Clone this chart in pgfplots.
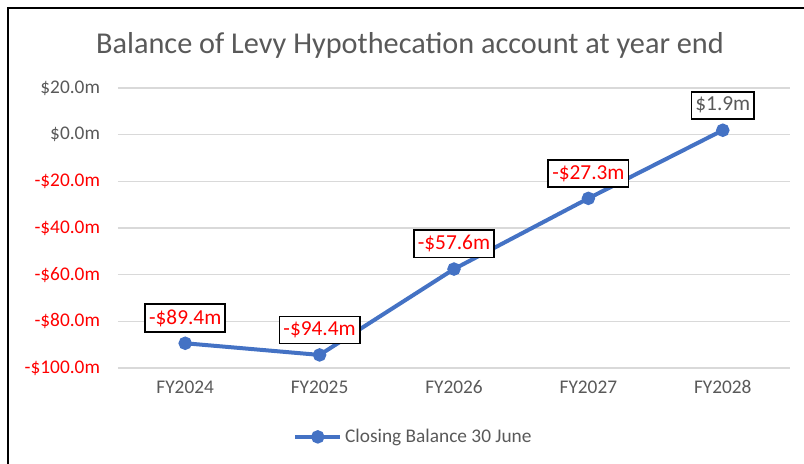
\documentclass[border=0pt]{standalone}
\usepackage{pgfplots}
\pgfplotsset{compat=1.18}
\usepackage{fontspec}
\setmainfont{Carlito}
\definecolor{txtgray}{HTML}{595959}
\definecolor{gridgray}{HTML}{D9D9D9}
\definecolor{lineblue}{HTML}{4472C4}
\definecolor{negred}{HTML}{FF0000}
\begin{document}
\begin{tikzpicture}
\path[use as bounding box] (0,0) rectangle (603pt,348pt);
\draw[line width=1.8pt] (6pt,0) -- (6pt,342pt) -- (603pt,342pt);
\node[font=\fontsize{22.7}{26}\selectfont, text=txtgray] at (307.5pt,314pt)
  {Balance of Levy Hypothecation account at year end};
\begin{axis}[
    at={(88.5pt,72pt)}, anchor=south west,
    scale only axis,
    width=504pt, height=210pt,
    xmin=-0.5, xmax=4.5,
    ymin=-100, ymax=20,
    xtick={0,1,2,3,4},
    xticklabels={FY2024,FY2025,FY2026,FY2027,FY2028},
    ytick={-100,-80,-60,-40,-20,0,20},
    yticklabels={\textcolor{negred}{-\$100.0m},\textcolor{negred}{-\$80.0m},
      \textcolor{negred}{-\$60.0m},\textcolor{negred}{-\$40.0m},
      \textcolor{negred}{-\$20.0m},\$0.0m,\$20.0m},
    ymajorgrids,
    grid style={gridgray, line width=0.9pt},
    axis line style={draw=none},
    major tick style={draw=none},
    tick label style={font=\fontsize{14.5}{17}\selectfont, text=txtgray},
    yticklabel style={xshift=-10pt},
    xticklabel style={yshift=-6pt},
    clip=false,
    legend style={at={(0.44,-0.246)}, anchor=center, draw=none, fill=none,
      font=\fontsize{14.5}{17}\selectfont, text=txtgray},
    legend image code/.code={
      \draw[lineblue, line width=3pt] (0pt,0pt) -- (34pt,0pt);
      \fill[lineblue] (17pt,0pt) circle (3.5pt);
    },
]
% data labels drawn first so the line sits on top of them
\addplot[draw=none, forget plot,
    point meta=explicit symbolic,
    nodes near coords,
    every node near coord/.style={draw=black, line width=1.3pt, fill=white,
      font=\fontsize{16}{19}\selectfont, inner xsep=3pt, inner ysep=4pt,
      anchor=south, yshift=8pt}]
  coordinates {
    (0,-89.4) [\textcolor{negred}{-\$89.4m}]
    (1,-94.4) [\textcolor{negred}{-\$94.4m}]
    (2,-57.6) [\textcolor{negred}{-\$57.6m}]
    (3,-27.3) [\textcolor{negred}{-\$27.3m}]
    (4,1.9) [\textcolor{txtgray}{\$1.9m}]
  };
\addplot[lineblue, line width=3pt, mark=*, mark size=3.5pt,
    mark options={fill=lineblue, draw=lineblue}]
  coordinates {
    (0,-89.4)
    (1,-94.4)
    (2,-57.6)
    (3,-27.3)
    (4,1.9)
  };
\legend{Closing Balance 30 June}
\end{axis}
\end{tikzpicture}
\end{document}
